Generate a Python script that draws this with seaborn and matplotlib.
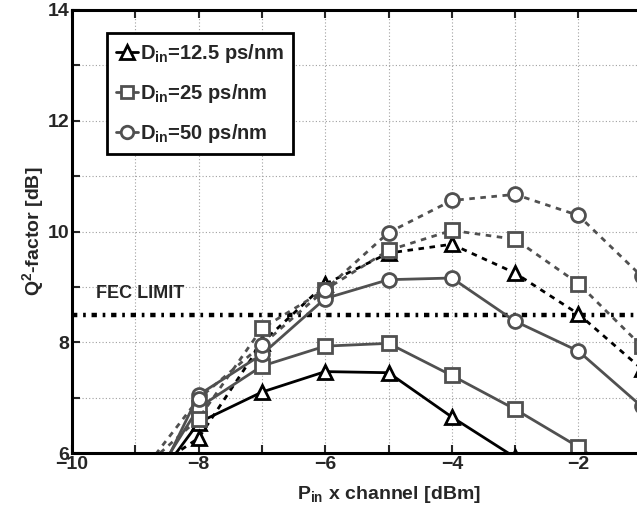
import numpy as np
import pandas as pd
import matplotlib
matplotlib.use("Agg")
import matplotlib.pyplot as plt
from matplotlib.lines import Line2D
import seaborn as sns

# Input power per channel [dBm]
p_in = [-9, -8, -7, -6, -5, -4, -3, -2, -1]

# Q^2-factor [dB], solid and dotted curves for each pre-compensation value
q_125_solid = [5.0, 6.55, 7.10, 7.47, 7.45, 6.65, 5.92, 5.2, 4.3]
q_125_dot = [5.5, 6.27, 7.99, 9.05, 9.61, 9.77, 9.25, 8.51, 7.52]
q_25_solid = [5.0, 6.82, 7.57, 7.93, 7.98, 7.40, 6.79, 6.11, 5.3]
q_25_dot = [5.6, 6.62, 8.25, 8.95, 9.66, 10.02, 9.86, 9.06, 7.93]
q_50_solid = [4.7, 7.05, 7.78, 8.79, 9.13, 9.16, 8.38, 7.84, 6.84]
q_50_dot = [5.5, 6.98, 7.95, 8.95, 9.98, 10.56, 10.67, 10.29, 9.19]

labels = ["12.5", "25", "50"]
fec_limit = 8.5

sns.set_theme(style="ticks")
plt.rcParams["font.family"] = ["Liberation Sans", "DejaVu Sans"]
plt.rcParams["font.weight"] = "bold"
plt.rcParams["mathtext.fontset"] = "custom"
plt.rcParams["mathtext.rm"] = "Liberation Sans:bold"
plt.rcParams["mathtext.bf"] = "Liberation Sans:bold"
plt.rcParams["mathtext.it"] = "Liberation Sans:bold"
plt.rcParams["mathtext.default"] = "rm"
plt.rcParams["axes.unicode_minus"] = True

fig = plt.figure(figsize=(6.37, 5.24), dpi=100)
ax = fig.add_axes([72 / 637, 71 / 524, 633 / 637, 443 / 524])

black = "#000000"
gray = "#505050"
series = [
    (q_125_solid, "-", black, "^"),
    (q_125_dot, (0, (2.0, 2.0)), black, "^"),
    (q_25_solid, "-", gray, "s"),
    (q_25_dot, (0, (2.0, 2.0)), gray, "s"),
    (q_50_solid, "-", gray, "o"),
    (q_50_dot, (0, (2.0, 2.0)), gray, "o"),
]

for vals, ls, col, mk in series:
    df = pd.DataFrame({"p": p_in, "q": vals})
    sns.lineplot(data=df, x="p", y="q", ax=ax, color=col, linestyle=ls,
                 linewidth=2.0, marker=mk, markersize=10,
                 markerfacecolor="white", markeredgecolor=col,
                 markeredgewidth=2.0, legend=False)

# FEC threshold
ax.axhline(fec_limit, color="black", linewidth=3.2,
           linestyle=(0, (1.2, 1.3, 0.6, 1.3)), zorder=1)
ax.text(-9.62, 8.88, "FEC LIMIT", fontsize=13, fontweight="bold",
        ha="left", va="center")

ax.set_xlim(-10, 0)
ax.set_ylim(6, 14)
ax.set_xticks(np.arange(-10, 0, 1))
ax.set_xticklabels(["\u2212%d" % -v if v % 2 == 0 else "" for v in range(-10, 0)])
ax.set_yticks(np.arange(6, 15, 1))
ax.set_yticklabels([str(v) if v % 2 == 0 else "" for v in range(6, 15)])
ax.tick_params(axis="both", direction="in", length=6, width=1.5,
               labelsize=14, top=True, right=False, pad=2)
for lab in ax.get_xticklabels() + ax.get_yticklabels():
    lab.set_fontweight("bold")

ax.grid(True, linestyle=(0, (1, 2)), color="#a0a0a0", linewidth=0.8)
for side in ["left", "bottom", "top"]:
    ax.spines[side].set_linewidth(2.2)
    ax.spines[side].set_color("black")
ax.spines["right"].set_visible(False)

ax.set_xlabel("P$_{in}$ x channel [dBm]", fontsize=14, fontweight="bold", labelpad=8)
ax.set_ylabel("Q$^{2}$-factor [dB]", fontsize=14, fontweight="bold", labelpad=1)

handles = [
    Line2D([], [], color=black, marker="^", markersize=10, markerfacecolor="white",
           markeredgewidth=2.0, linewidth=2.0),
    Line2D([], [], color=gray, marker="s", markersize=8, markerfacecolor="white",
           markeredgewidth=2.0, linewidth=2.0),
    Line2D([], [], color=gray, marker="o", markersize=9, markerfacecolor="white",
           markeredgewidth=2.0, linewidth=2.0),
]
leg = ax.legend(handles, ["D$_{in}$=%s ps/nm" % s for s in labels],
                loc="upper left", bbox_to_anchor=(0.055, 0.948),
                borderaxespad=0, fontsize=14.5, handlelength=1.1,
                handletextpad=0.1, labelspacing=0.85, borderpad=0.45,
                frameon=True, fancybox=False, framealpha=1)
leg.get_frame().set_edgecolor("black")
leg.get_frame().set_linewidth(2.0)
for t in leg.get_texts():
    t.set_fontweight("bold")

fig.savefig("out.png", dpi=100)
